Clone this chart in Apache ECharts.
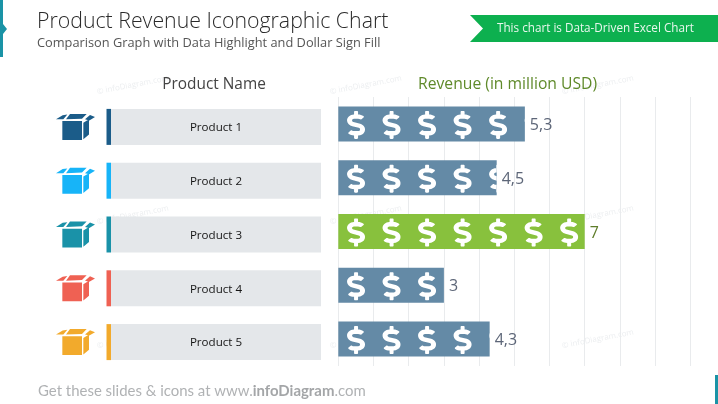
<!DOCTYPE html>
<html><head><meta charset="utf-8">
<style>html,body{margin:0;padding:0;background:#fff}#c{width:718px;height:404px}</style>
<script src="https://cdn.jsdelivr.net/npm/echarts@6/dist/echarts.min.js"></script>
</head><body><div id="c"></div>
<script>
const categories = ['Product 1','Product 2','Product 3','Product 4','Product 5'];
const revenue = [5.3,4.5,7,3,4.3];
const highlighted = 'Product 3';
const tickMax = 10;
const iconColors = ['#1b5c89','#17b4f8','#1a92a8','#ef6153','#f2aa2c'];
const BAR='#648aa6', GREEN='#88c13d', TEAL='#1a93a6';
const DOLLAR='path://M209.2 233.4l-108-31.6C88.7 198.2 80 186.5 80 173.5c0-16.3 13.2-29.5 29.5-29.5h66.3c12.2 0 24.2 3.7 34.2 10.5 6.1 4.1 14.3 3.1 19.5-2l34.8-34c7.1-6.9 6.1-18.4-1.8-24.5C238 74.8 207.4 64.1 176 64V16c0-8.8-7.2-16-16-16h-32c-8.8 0-16 7.2-16 16v48h-2.5C45.8 64-5.4 118.7.5 183.6c4.2 46.1 39.4 83.6 83.8 96.6l102.5 30c12.5 3.7 21.2 15.3 21.2 28.3 0 16.3-13.2 29.5-29.5 29.5h-66.3C100 368 88 364.3 78 357.5c-6.1-4.1-14.3-3.1-19.5 2l-34.8 34c-7.1 6.9-6.1 18.4 1.8 24.5 24.5 19.2 55.1 29.9 86.5 30v48c0 8.8 7.2 16 16 16h32c8.8 0 16-7.2 16-16v-48.2c46.6-.9 90.3-28.6 105.7-72.7 21.5-61.6-14.6-124.8-72.5-141.7z';
const BOX='path://M19 21L78 21L78 76L19 76ZM82 26L99 16L99 60L82 74ZM0 16L20 4L34 2L22 16ZM42 0L92 0L78 14L30 16ZM87 16L102 3L117 9L100 19Z';
const FONT='"Open Sans","Noto Sans",sans-serif';
const hidden={show:false};
const wm=[[97,92],[330,92],[562,92],[97,222],[330,222],[562,222],[97,346],[330,346],[562,346]].map(p=>({
  type:'text',x:p[0],y:p[1],rotation:Math.PI/180*11,z:0,
  style:{text:'© infoDiagram.com',fill:'#eceef0',font:'8px '+FONT,textVerticalAlign:'middle'}}));
const chart=echarts.init(document.getElementById('c'),null,{renderer:'canvas'});
const valueColor=c=>c===highlighted?GREEN:BAR;
const t=(text,left,top,size,color,extra)=>Object.assign({text,left,top,padding:0,textStyle:Object.assign({fontFamily:FONT,fontWeight:400,fontSize:size,color},extra||{})});
chart.setOption({
  animation:false,
  backgroundColor:'#fff',
  title:[
    t('Product Revenue Iconographic Chart',37,11,21.3,'#2a2a2a',{fontWeight:300}),
    t('Comparison Graph with Data Highlight and Dollar Sign Fill',37,37,12.8,'#555'),
    t('This chart is Data-Driven Excel Chart',497,23,11.7,'#e9f7ee'),
    Object.assign(t('Product Name',214,77,15.4,'#444'),{textAlign:'center'}),
    t('Revenue (in million USD)',418,77,15.7,'#5f8a2a'),
    t('Get these slides & icons at www.{b|infoDiagram}.com',38,384,14.95,'#b0b2b4',{fontFamily:'Lato,sans-serif',rich:{b:{fontFamily:'Lato,sans-serif',fontWeight:700,fontSize:14.95,color:'#a4a6a8'}}})
  ],
  graphic:[...wm,
    {type:'polygon',z:1,shape:{points:[[0,0],[3,0],[3,24],[7,29],[3,34],[3,57],[0,57]]},style:{fill:TEAL}},
    {type:'polygon',z:1,shape:{points:[[470,15],[718,15],[718,42],[470,42],[483,28.5]]},style:{fill:'#0db04f'}},
    {type:'rect',z:1,shape:{x:715,y:375,width:3,height:29},style:{fill:TEAL}}
  ],
  grid:[
    {left:338.3,top:97,width:352,height:269},
    {left:111,top:100,width:210,height:269},
    {left:106.5,top:100,width:4.5,height:269},
    {left:56,top:100,width:39,height:269}
  ],
  xAxis:[
    {gridIndex:0,type:'value',min:0,max:tickMax,interval:1,axisLabel:hidden,axisTick:hidden,axisLine:hidden,splitLine:{show:true,lineStyle:{color:'#e9ebed',width:1}}},
    {gridIndex:1,type:'value',min:0,max:1,show:false},
    {gridIndex:2,type:'value',min:0,max:1,show:false},
    {gridIndex:3,type:'value',min:0,max:1,show:false}
  ],
  yAxis:[0,1,2,3].map(i=>({gridIndex:i,type:'category',inverse:true,data:categories,show:false})),
  series:[
    {name:'Revenue',type:'bar',xAxisIndex:0,yAxisIndex:0,z:2,barWidth:35,
      data:revenue.map((v,i)=>({value:v,itemStyle:{color:valueColor(categories[i])},
        label:{color:categories[i]===highlighted?'#5f7d2a':'#5d6678'}})),
      label:{show:true,position:'right',distance:5,offset:[0,1.5],fontFamily:FONT,fontSize:16,
        formatter:p=>String(p.value).replace('.',',')}},
    {name:'Dollar',type:'pictorialBar',xAxisIndex:0,yAxisIndex:0,z:3,
      symbol:DOLLAR,symbolRepeat:tickMax,symbolClip:true,symbolBoundingData:10.09,
      symbolSize:[18,28],symbolMargin:'8.7!',symbolPosition:'start',barWidth:35,symbolOffset:[0,1],
      itemStyle:{color:'#fff'},data:revenue},
    {name:'Panel',type:'bar',xAxisIndex:1,yAxisIndex:1,barWidth:36,
      itemStyle:{color:'#e4e7ea'},
      data:categories.map(c=>({value:1,name:c})),
      label:{show:true,position:'inside',offset:[0,1],formatter:'{b}',fontFamily:FONT,fontSize:11.6,color:'#151515'}},
    {name:'Accent',type:'bar',xAxisIndex:2,yAxisIndex:2,barWidth:36,
      data:categories.map((c,i)=>({value:1,itemStyle:{color:iconColors[i]}}))},
    {name:'Icon',type:'pictorialBar',xAxisIndex:3,yAxisIndex:3,
      symbol:BOX,symbolSize:[39,26],symbolPosition:'start',barWidth:26,
      data:categories.map((c,i)=>({value:1,itemStyle:{color:iconColors[i]}}))}
  ]
});
</script></body></html>
